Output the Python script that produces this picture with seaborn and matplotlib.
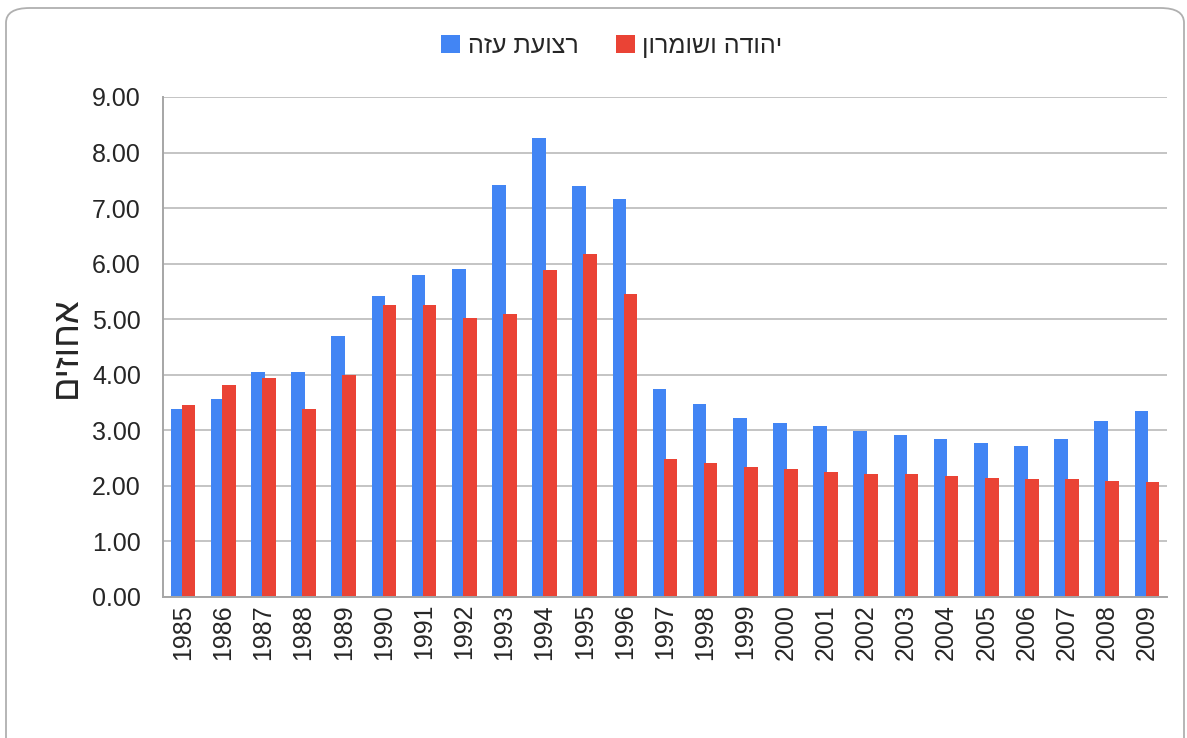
import pandas as pd
import matplotlib.pyplot as plt
import seaborn as sns
from matplotlib.patches import FancyBboxPatch

# --- data ---
years = [str(y) for y in range(1985, 2010)]
gaza = [3.38, 3.57, 4.05, 4.05, 4.69, 5.41, 5.79, 5.90, 7.42, 8.27, 7.39, 7.16, 3.74,
        3.48, 3.23, 3.14, 3.07, 2.99, 2.91, 2.84, 2.78, 2.71, 2.84, 3.17, 3.35]
judea = [3.46, 3.82, 3.94, 3.38, 4.00, 5.25, 5.25, 5.03, 5.10, 5.88, 6.18, 5.45, 2.48,
         2.41, 2.34, 2.30, 2.25, 2.22, 2.21, 2.18, 2.14, 2.12, 2.12, 2.09, 2.07]
series_names = ['רצועת עזה', 'יהודה ושומרון']
y_label = 'אחוזים'
colors = ['#4285F4', '#EA4335']

# matplotlib has no bidi support -> reverse hebrew strings for visual order
def rtl(s):
    return s[::-1]

df = pd.DataFrame({
    'year': years * 2,
    'value': gaza + judea,
    'series': [rtl(series_names[0])] * len(years) + [rtl(series_names[1])] * len(years),
})

sns.set_style("white")
plt.rcParams['font.family'] = ['Liberation Sans', 'DejaVu Sans']

fig = plt.figure(figsize=(11.87, 7.38), dpi=100)
ax = fig.add_axes([163 / 1187, 1 - 597 / 738, 1004 / 1187, 500 / 738])

sns.barplot(data=df, x='year', y='value', hue='series', palette=colors,
            width=0.614, saturation=1, linewidth=0, ax=ax, legend=True)

# google-sheets style: the two bars overlap slightly
n = len(years)
for i, p in enumerate(ax.patches[:2 * n]):
    if i < n:
        p.set_width(0.34)
    else:
        p.set_x(p.get_x() - 0.033)
        p.set_width(0.34)

ax.set_ylim(0, 9)
ax.set_yticks(range(0, 10))
ax.set_yticklabels([f'{v:.2f}' for v in range(0, 10)], fontsize=18)
ax.tick_params(axis='x', rotation=90, labelsize=18, length=0, pad=5)
ax.tick_params(axis='y', length=0, pad=16)
ax.set_xlim(-0.5, n - 0.5)
ax.set_xlabel('')
ax.set_ylabel(rtl(y_label), fontsize=26, labelpad=6)

ax.grid(axis='y', color='#c4c4c4', linewidth=1.4)
ax.set_axisbelow(True)
for side in ['top', 'right']:
    ax.spines[side].set_visible(False)
for side in ['left', 'bottom']:
    ax.spines[side].set_color('#a6a6a6')
    ax.spines[side].set_linewidth(1.4)

leg = ax.legend(loc='center', bbox_to_anchor=(612 / 1187, 1 - 46 / 738),
                bbox_transform=fig.transFigure, ncol=2, frameon=False,
                fontsize=18, handlelength=0.75, handleheight=0.75, handletextpad=0.3,
                columnspacing=1.5)

# rounded frame around the whole picture
frame = FancyBboxPatch((6 / 1187, -0.05), 1178 / 1187, 1.05 - 8 / 738,
                       boxstyle='round,pad=0,rounding_size=0.02',
                       transform=fig.transFigure, fill=False,
                       edgecolor='#b0b0b0', linewidth=1.3)
fig.patches.append(frame)

fig.savefig('out.png', dpi=100)
